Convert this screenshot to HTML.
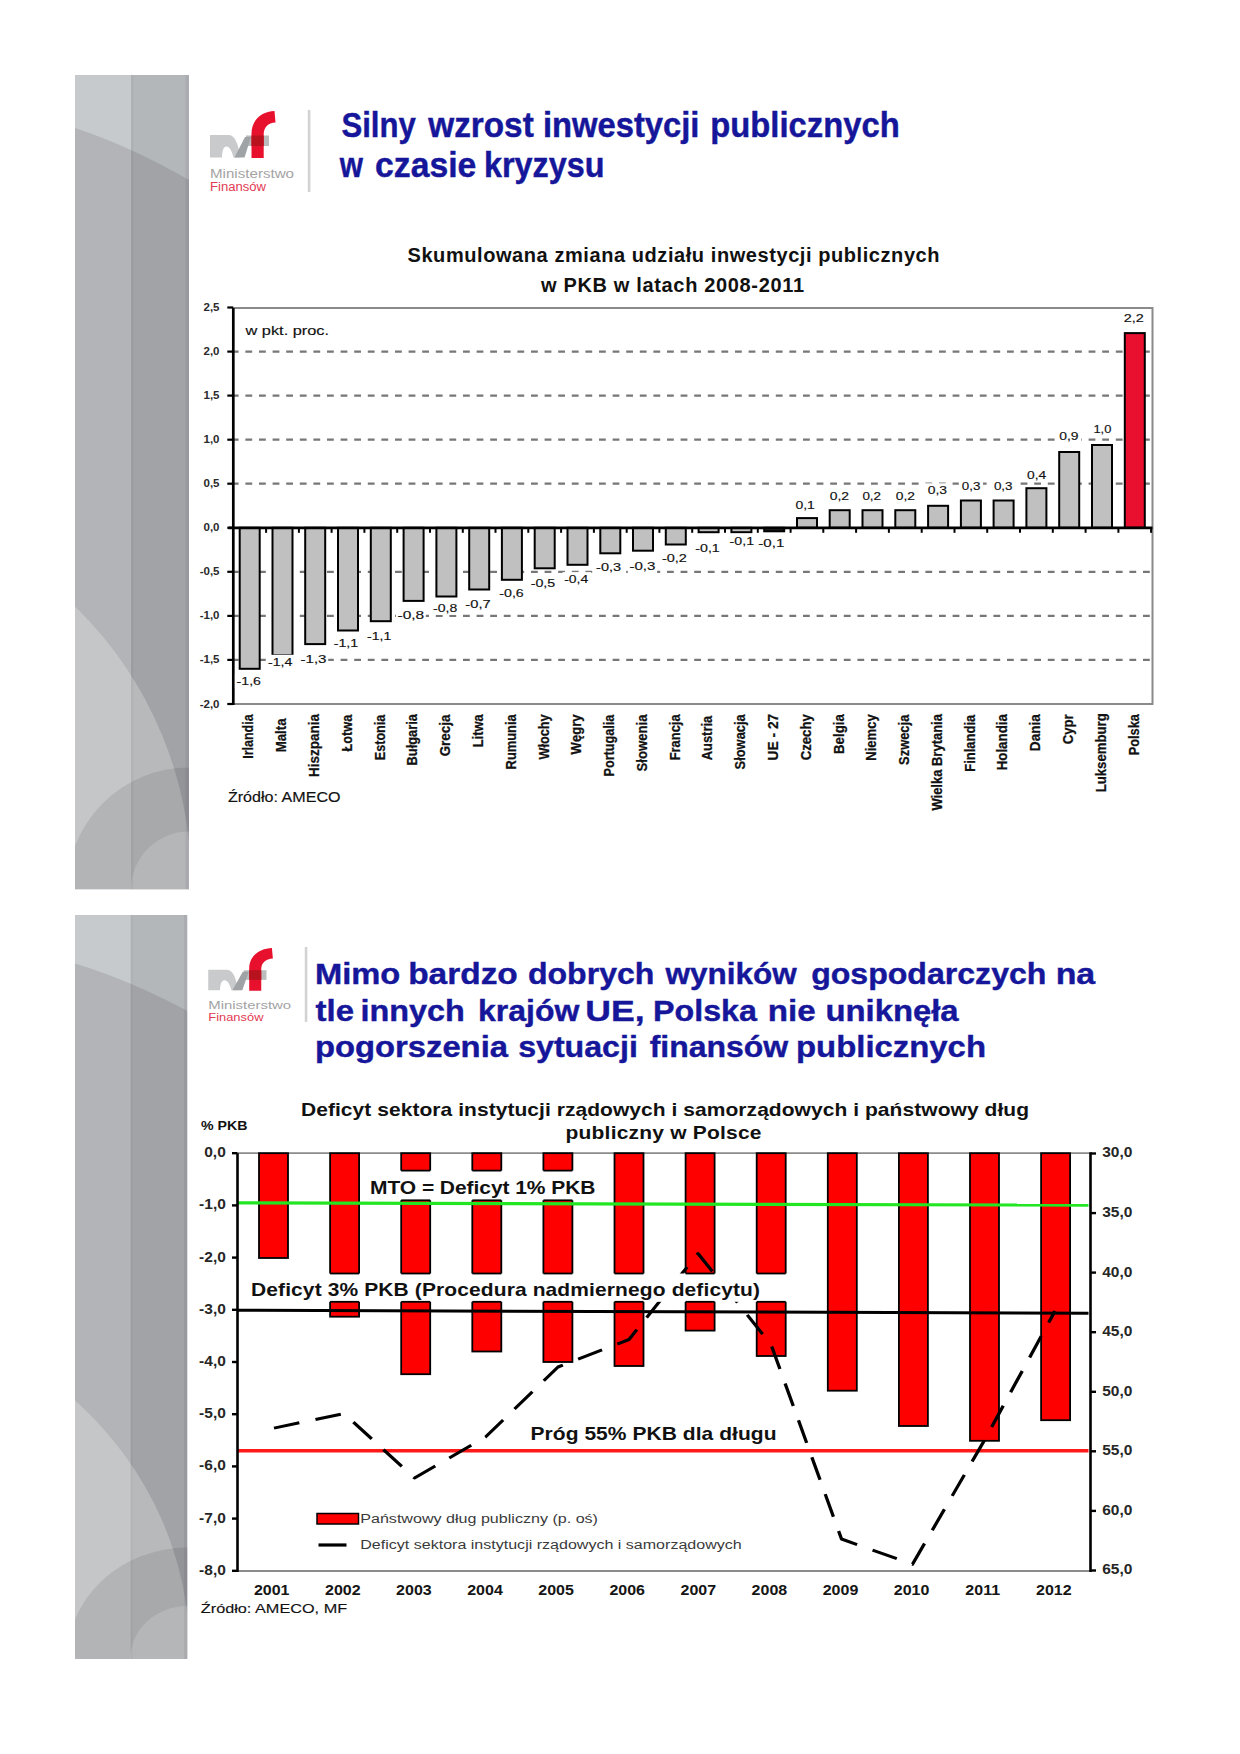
<!DOCTYPE html><html><head><meta charset="utf-8"><style>html,body{margin:0;padding:0;background:#fff}svg{display:block}</style></head><body>
<svg width="1240" height="1754" viewBox="0 0 1240 1754" style="font-family:'Liberation Sans',sans-serif">
<rect width="1240" height="1754" fill="#fff"/>
<defs><clipPath id="c1"><rect x="75" y="75" width="114" height="814.5"/></clipPath></defs>
<g clip-path="url(#c1)">
<rect x="75" y="75" width="56" height="814.5" fill="#c7cacd"/>
<rect x="131" y="75" width="58" height="814.5" fill="#b4b7ba"/>
<path d="M75,128 Q130,146 189,180 L189,889.5 L75,889.5 Z" fill="#000" fill-opacity="0.105"/>
<circle cx="-192" cy="881" r="383" fill="#fff" fill-opacity="0.24"/>
<circle cx="189" cy="889.5" r="122" fill="#000" fill-opacity="0.085"/>
<circle cx="189" cy="889.5" r="58" fill="#fff" fill-opacity="0.16"/>
<rect x="185.5" y="75" width="3.5" height="814.5" fill="#302040" fill-opacity="0.07"/>
<rect x="131" y="75" width="2.5" height="814.5" fill="#000" fill-opacity="0.03"/>
</g>
<g transform="translate(210,111) scale(1.0) translate(-210,-111)">
<path d="M210,157.5 V135 H229 C235.5,135 238.5,146 240.5,157.5 H233.5 C232,151 229.5,146.5 226.5,146.5 C223.5,146.5 222,151 222,157.5 Z" fill="#c9cacc"/>
<rect x="246" y="135.5" width="23" height="10.5" fill="#b9bdbe"/>
<path d="M234.5,157.5 L244.5,157.5 L251,137 L245,137 Z" fill="#9fa3a5"/>
<path d="M251.5,158 V133.5 C251.5,120 261.5,111.5 274.5,111 L275.5,122.5 C268,122.8 263.7,127.5 263.7,134.5 V158 Z" fill="#e8112d"/>
<rect x="251.5" y="135.5" width="12.2" height="10.5" fill="#b8121f"/>
<text x="210" y="177.5" font-size="12" fill="#a3a3a3" textLength="84" lengthAdjust="spacingAndGlyphs">Ministerstwo</text>
<text x="210" y="191" font-size="12" fill="#e23a52" textLength="56" lengthAdjust="spacingAndGlyphs">Finansów</text>
</g>
<rect x="307.8" y="110" width="2.6" height="82" fill="#d2d2d2"/>
<text transform="translate(341.41,137.00)" font-size="35" font-weight="bold" fill="#16169a" textLength="74.36" lengthAdjust="spacingAndGlyphs" stroke="#16169a" stroke-width="0.45">Silny</text>
<text transform="translate(428.20,137.00)" font-size="35" font-weight="bold" fill="#16169a" textLength="105.57" lengthAdjust="spacingAndGlyphs" stroke="#16169a" stroke-width="0.45">wzrost</text>
<text transform="translate(542.93,137.00)" font-size="35" font-weight="bold" fill="#16169a" textLength="156.52" lengthAdjust="spacingAndGlyphs" stroke="#16169a" stroke-width="0.45">inwestycji</text>
<text transform="translate(710.23,137.00)" font-size="35" font-weight="bold" fill="#16169a" textLength="189.48" lengthAdjust="spacingAndGlyphs" stroke="#16169a" stroke-width="0.45">publicznych</text>
<text transform="translate(339.70,177.00)" font-size="35" font-weight="bold" fill="#16169a" textLength="23.20" lengthAdjust="spacingAndGlyphs" stroke="#16169a" stroke-width="0.45">w</text>
<text transform="translate(375.04,177.00)" font-size="35" font-weight="bold" fill="#16169a" textLength="101.22" lengthAdjust="spacingAndGlyphs" stroke="#16169a" stroke-width="0.45">czasie</text>
<text transform="translate(483.95,177.00)" font-size="35" font-weight="bold" fill="#16169a" textLength="120.44" lengthAdjust="spacingAndGlyphs" stroke="#16169a" stroke-width="0.45">kryzysu</text>
<text x="407.5" y="262" font-size="20" font-weight="bold" fill="#111" text-anchor="start" textLength="532" lengthAdjust="spacing" >Skumulowana zmiana udziału inwestycji publicznych</text>
<text x="541" y="291.5" font-size="20" font-weight="bold" fill="#111" text-anchor="start" textLength="263" lengthAdjust="spacing" >w PKB w latach 2008-2011</text>
<path d="M233.3,308 H1152.5 V704 H233.3" fill="none" stroke="#8a8a8a" stroke-width="2"/>
<line x1="231.8" y1="351.6" x2="1152.5" y2="351.6" stroke="#777" stroke-width="2.2" stroke-dasharray="6.8 6.8"/>
<line x1="231.8" y1="395.6" x2="1152.5" y2="395.6" stroke="#777" stroke-width="2.2" stroke-dasharray="6.8 6.8"/>
<line x1="231.8" y1="439.7" x2="1152.5" y2="439.7" stroke="#777" stroke-width="2.2" stroke-dasharray="6.8 6.8"/>
<line x1="231.8" y1="483.7" x2="1152.5" y2="483.7" stroke="#777" stroke-width="2.2" stroke-dasharray="6.8 6.8"/>
<line x1="231.8" y1="571.8" x2="1152.5" y2="571.8" stroke="#777" stroke-width="2.2" stroke-dasharray="6.8 6.8"/>
<line x1="231.8" y1="615.9" x2="1152.5" y2="615.9" stroke="#777" stroke-width="2.2" stroke-dasharray="6.8 6.8"/>
<line x1="231.8" y1="659.9" x2="1152.5" y2="659.9" stroke="#777" stroke-width="2.2" stroke-dasharray="6.8 6.8"/>
<rect x="239.7" y="527.8" width="20" height="141.0" fill="#c0c0c0" stroke="#000" stroke-width="2"/>
<rect x="272.5" y="527.8" width="20" height="127.5" fill="#c0c0c0" stroke="#000" stroke-width="2"/>
<rect x="305.2" y="527.8" width="20" height="116.3" fill="#c0c0c0" stroke="#000" stroke-width="2"/>
<rect x="338.0" y="527.8" width="20" height="102.7" fill="#c0c0c0" stroke="#000" stroke-width="2"/>
<rect x="370.8" y="527.8" width="20" height="93.4" fill="#c0c0c0" stroke="#000" stroke-width="2"/>
<rect x="403.6" y="527.8" width="20" height="73.1" fill="#c0c0c0" stroke="#000" stroke-width="2"/>
<rect x="436.4" y="527.8" width="20" height="68.7" fill="#c0c0c0" stroke="#000" stroke-width="2"/>
<rect x="469.2" y="527.8" width="20" height="61.7" fill="#c0c0c0" stroke="#000" stroke-width="2"/>
<rect x="501.9" y="527.8" width="20" height="52.0" fill="#c0c0c0" stroke="#000" stroke-width="2"/>
<rect x="534.7" y="527.8" width="20" height="40.5" fill="#c0c0c0" stroke="#000" stroke-width="2"/>
<rect x="567.5" y="527.8" width="20" height="37.0" fill="#c0c0c0" stroke="#000" stroke-width="2"/>
<rect x="600.3" y="527.8" width="20" height="25.5" fill="#c0c0c0" stroke="#000" stroke-width="2"/>
<rect x="633.0" y="527.8" width="20" height="22.9" fill="#c0c0c0" stroke="#000" stroke-width="2"/>
<rect x="665.8" y="527.8" width="20" height="16.7" fill="#c0c0c0" stroke="#000" stroke-width="2"/>
<rect x="698.6" y="527.8" width="20" height="4.4" fill="#c0c0c0" stroke="#000" stroke-width="2"/>
<rect x="731.4" y="527.8" width="20" height="4.4" fill="#c0c0c0" stroke="#000" stroke-width="2"/>
<rect x="764.2" y="527.8" width="20" height="3.5" fill="#222" stroke="#000" stroke-width="2"/>
<rect x="797.0" y="518.1" width="20" height="9.7" fill="#c0c0c0" stroke="#000" stroke-width="2"/>
<rect x="829.7" y="510.2" width="20" height="17.6" fill="#c0c0c0" stroke="#000" stroke-width="2"/>
<rect x="862.5" y="510.2" width="20" height="17.6" fill="#c0c0c0" stroke="#000" stroke-width="2"/>
<rect x="895.3" y="510.2" width="20" height="17.6" fill="#c0c0c0" stroke="#000" stroke-width="2"/>
<rect x="928.1" y="505.8" width="20" height="22.0" fill="#c0c0c0" stroke="#000" stroke-width="2"/>
<rect x="960.9" y="500.5" width="20" height="27.3" fill="#c0c0c0" stroke="#000" stroke-width="2"/>
<rect x="993.6" y="500.5" width="20" height="27.3" fill="#c0c0c0" stroke="#000" stroke-width="2"/>
<rect x="1026.4" y="488.2" width="20" height="39.6" fill="#c0c0c0" stroke="#000" stroke-width="2"/>
<rect x="1059.2" y="452.0" width="20" height="75.8" fill="#c0c0c0" stroke="#000" stroke-width="2"/>
<rect x="1092.0" y="445.0" width="20" height="82.8" fill="#c0c0c0" stroke="#000" stroke-width="2"/>
<rect x="1124.8" y="333.1" width="20" height="194.7" fill="#e8102e" stroke="#000" stroke-width="2"/>
<line x1="228.3" y1="527.8" x2="1152.5" y2="527.8" stroke="#000" stroke-width="2.8"/>
<line x1="266.1" y1="527.8" x2="266.1" y2="532.8" stroke="#000" stroke-width="2"/>
<line x1="298.9" y1="527.8" x2="298.9" y2="532.8" stroke="#000" stroke-width="2"/>
<line x1="331.6" y1="527.8" x2="331.6" y2="532.8" stroke="#000" stroke-width="2"/>
<line x1="364.4" y1="527.8" x2="364.4" y2="532.8" stroke="#000" stroke-width="2"/>
<line x1="397.2" y1="527.8" x2="397.2" y2="532.8" stroke="#000" stroke-width="2"/>
<line x1="430.0" y1="527.8" x2="430.0" y2="532.8" stroke="#000" stroke-width="2"/>
<line x1="462.8" y1="527.8" x2="462.8" y2="532.8" stroke="#000" stroke-width="2"/>
<line x1="495.5" y1="527.8" x2="495.5" y2="532.8" stroke="#000" stroke-width="2"/>
<line x1="528.3" y1="527.8" x2="528.3" y2="532.8" stroke="#000" stroke-width="2"/>
<line x1="561.1" y1="527.8" x2="561.1" y2="532.8" stroke="#000" stroke-width="2"/>
<line x1="593.9" y1="527.8" x2="593.9" y2="532.8" stroke="#000" stroke-width="2"/>
<line x1="626.7" y1="527.8" x2="626.7" y2="532.8" stroke="#000" stroke-width="2"/>
<line x1="659.4" y1="527.8" x2="659.4" y2="532.8" stroke="#000" stroke-width="2"/>
<line x1="692.2" y1="527.8" x2="692.2" y2="532.8" stroke="#000" stroke-width="2"/>
<line x1="725.0" y1="527.8" x2="725.0" y2="532.8" stroke="#000" stroke-width="2"/>
<line x1="757.8" y1="527.8" x2="757.8" y2="532.8" stroke="#000" stroke-width="2"/>
<line x1="790.6" y1="527.8" x2="790.6" y2="532.8" stroke="#000" stroke-width="2"/>
<line x1="823.3" y1="527.8" x2="823.3" y2="532.8" stroke="#000" stroke-width="2"/>
<line x1="856.1" y1="527.8" x2="856.1" y2="532.8" stroke="#000" stroke-width="2"/>
<line x1="888.9" y1="527.8" x2="888.9" y2="532.8" stroke="#000" stroke-width="2"/>
<line x1="921.7" y1="527.8" x2="921.7" y2="532.8" stroke="#000" stroke-width="2"/>
<line x1="954.5" y1="527.8" x2="954.5" y2="532.8" stroke="#000" stroke-width="2"/>
<line x1="987.2" y1="527.8" x2="987.2" y2="532.8" stroke="#000" stroke-width="2"/>
<line x1="1020.0" y1="527.8" x2="1020.0" y2="532.8" stroke="#000" stroke-width="2"/>
<line x1="1052.8" y1="527.8" x2="1052.8" y2="532.8" stroke="#000" stroke-width="2"/>
<line x1="1085.6" y1="527.8" x2="1085.6" y2="532.8" stroke="#000" stroke-width="2"/>
<line x1="1118.4" y1="527.8" x2="1118.4" y2="532.8" stroke="#000" stroke-width="2"/>
<line x1="1151.1" y1="527.8" x2="1151.1" y2="532.8" stroke="#000" stroke-width="2"/>
<line x1="233.3" y1="308" x2="233.3" y2="705" stroke="#000" stroke-width="2.7"/>
<line x1="227.3" y1="307.5" x2="233.3" y2="307.5" stroke="#000" stroke-width="2.2"/>
<text x="219.5" y="311.04999999999995" font-size="11.5" font-weight="bold" fill="#2a2a2a" text-anchor="end" >2,5</text>
<line x1="227.3" y1="351.6" x2="233.3" y2="351.6" stroke="#000" stroke-width="2.2"/>
<text x="219.5" y="355.09999999999997" font-size="11.5" font-weight="bold" fill="#2a2a2a" text-anchor="end" >2,0</text>
<line x1="227.3" y1="395.6" x2="233.3" y2="395.6" stroke="#000" stroke-width="2.2"/>
<text x="219.5" y="399.15" font-size="11.5" font-weight="bold" fill="#2a2a2a" text-anchor="end" >1,5</text>
<line x1="227.3" y1="439.7" x2="233.3" y2="439.7" stroke="#000" stroke-width="2.2"/>
<text x="219.5" y="443.19999999999993" font-size="11.5" font-weight="bold" fill="#2a2a2a" text-anchor="end" >1,0</text>
<line x1="227.3" y1="483.7" x2="233.3" y2="483.7" stroke="#000" stroke-width="2.2"/>
<text x="219.5" y="487.24999999999994" font-size="11.5" font-weight="bold" fill="#2a2a2a" text-anchor="end" >0,5</text>
<line x1="227.3" y1="527.8" x2="233.3" y2="527.8" stroke="#000" stroke-width="2.2"/>
<text x="219.5" y="531.3" font-size="11.5" font-weight="bold" fill="#2a2a2a" text-anchor="end" >0,0</text>
<line x1="227.3" y1="571.8" x2="233.3" y2="571.8" stroke="#000" stroke-width="2.2"/>
<text x="219.5" y="575.3499999999999" font-size="11.5" font-weight="bold" fill="#2a2a2a" text-anchor="end" >-0,5</text>
<line x1="227.3" y1="615.9" x2="233.3" y2="615.9" stroke="#000" stroke-width="2.2"/>
<text x="219.5" y="619.4" font-size="11.5" font-weight="bold" fill="#2a2a2a" text-anchor="end" >-1,0</text>
<line x1="227.3" y1="659.9" x2="233.3" y2="659.9" stroke="#000" stroke-width="2.2"/>
<text x="219.5" y="663.4499999999999" font-size="11.5" font-weight="bold" fill="#2a2a2a" text-anchor="end" >-1,5</text>
<line x1="227.3" y1="704.0" x2="233.3" y2="704.0" stroke="#000" stroke-width="2.2"/>
<text x="219.5" y="707.5" font-size="11.5" font-weight="bold" fill="#2a2a2a" text-anchor="end" >-2,0</text>
<text transform="translate(245.50,334.50)" font-size="13" font-weight="normal" fill="#111" textLength="83.55" lengthAdjust="spacingAndGlyphs" stroke="#111" stroke-width="0.15">w pkt. proc.</text>
<rect x="234.9" y="674.0" width="27.8" height="14" fill="#fff"/>
<rect x="266.3" y="654.8" width="29.1" height="14" fill="#fff"/>
<rect x="298.8" y="652.0" width="29.4" height="14" fill="#fff"/>
<rect x="332.0" y="635.4" width="28.0" height="14" fill="#fff"/>
<rect x="365.3" y="629.2" width="27.7" height="14" fill="#fff"/>
<rect x="395.9" y="607.4" width="29.9" height="14" fill="#fff"/>
<rect x="431.3" y="600.8" width="27.7" height="14" fill="#fff"/>
<rect x="463.7" y="596.8" width="28.7" height="14" fill="#fff"/>
<rect x="497.6" y="585.8" width="27.9" height="14" fill="#fff"/>
<rect x="529.0" y="576.2" width="28.0" height="14" fill="#fff"/>
<rect x="562.5" y="572.1" width="28.8" height="14" fill="#fff"/>
<rect x="594.4" y="560.3" width="28.4" height="14" fill="#fff"/>
<rect x="627.8" y="559.0" width="29.3" height="14" fill="#fff"/>
<rect x="660.2" y="551.3" width="28.4" height="14" fill="#fff"/>
<rect x="693.6" y="540.6" width="27.9" height="14" fill="#fff"/>
<rect x="727.9" y="533.7" width="27.9" height="14" fill="#fff"/>
<rect x="756.7" y="535.7" width="29.3" height="14" fill="#fff"/>
<rect x="792.5" y="497.7" width="25.0" height="14" fill="#fff"/>
<rect x="826.7" y="488.7" width="24.9" height="14" fill="#fff"/>
<rect x="859.4" y="488.7" width="24.3" height="14" fill="#fff"/>
<rect x="892.8" y="488.7" width="24.8" height="14" fill="#fff"/>
<rect x="924.8" y="483.3" width="24.9" height="14" fill="#fff"/>
<rect x="958.8" y="479.2" width="24.2" height="14" fill="#fff"/>
<rect x="990.9" y="479.2" width="24.3" height="14" fill="#fff"/>
<rect x="1024.0" y="467.6" width="24.8" height="14" fill="#fff"/>
<rect x="1056.3" y="428.9" width="24.9" height="14" fill="#fff"/>
<rect x="1091.6" y="422.0" width="22.4" height="14" fill="#fff"/>
<rect x="1122.0" y="311.2" width="24.3" height="14" fill="#fff"/>
<text transform="translate(236.62,685.10)" font-size="11" font-weight="normal" fill="#111" textLength="24.32" lengthAdjust="spacingAndGlyphs" stroke="#111" stroke-width="0.15">-1,6</text>
<text transform="translate(268.02,665.90)" font-size="11" font-weight="normal" fill="#111" textLength="24.34" lengthAdjust="spacingAndGlyphs" stroke="#111" stroke-width="0.15">-1,4</text>
<text transform="translate(300.42,663.10)" font-size="11" font-weight="normal" fill="#111" textLength="26.11" lengthAdjust="spacingAndGlyphs" stroke="#111" stroke-width="0.15">-1,3</text>
<text transform="translate(333.71,646.50)" font-size="11" font-weight="normal" fill="#111" textLength="24.55" lengthAdjust="spacingAndGlyphs" stroke="#111" stroke-width="0.15">-1,1</text>
<text transform="translate(367.02,640.30)" font-size="11" font-weight="normal" fill="#111" textLength="24.21" lengthAdjust="spacingAndGlyphs" stroke="#111" stroke-width="0.15">-1,1</text>
<text transform="translate(397.49,618.50)" font-size="11" font-weight="normal" fill="#111" textLength="26.67" lengthAdjust="spacingAndGlyphs" stroke="#111" stroke-width="0.15">-0,8</text>
<text transform="translate(433.02,611.90)" font-size="11" font-weight="normal" fill="#111" textLength="24.21" lengthAdjust="spacingAndGlyphs" stroke="#111" stroke-width="0.15">-0,8</text>
<text transform="translate(465.36,607.90)" font-size="11" font-weight="normal" fill="#111" textLength="25.33" lengthAdjust="spacingAndGlyphs" stroke="#111" stroke-width="0.15">-0,7</text>
<text transform="translate(499.31,596.90)" font-size="11" font-weight="normal" fill="#111" textLength="24.44" lengthAdjust="spacingAndGlyphs" stroke="#111" stroke-width="0.15">-0,6</text>
<text transform="translate(530.71,587.30)" font-size="11" font-weight="normal" fill="#111" textLength="24.55" lengthAdjust="spacingAndGlyphs" stroke="#111" stroke-width="0.15">-0,5</text>
<text transform="translate(564.23,583.20)" font-size="11" font-weight="normal" fill="#111" textLength="24.03" lengthAdjust="spacingAndGlyphs" stroke="#111" stroke-width="0.15">-0,4</text>
<text transform="translate(596.08,571.40)" font-size="11" font-weight="normal" fill="#111" textLength="24.99" lengthAdjust="spacingAndGlyphs" stroke="#111" stroke-width="0.15">-0,3</text>
<text transform="translate(629.43,570.10)" font-size="11" font-weight="normal" fill="#111" textLength="26.00" lengthAdjust="spacingAndGlyphs" stroke="#111" stroke-width="0.15">-0,3</text>
<text transform="translate(661.88,562.40)" font-size="11" font-weight="normal" fill="#111" textLength="24.99" lengthAdjust="spacingAndGlyphs" stroke="#111" stroke-width="0.15">-0,2</text>
<text transform="translate(695.31,551.70)" font-size="11" font-weight="normal" fill="#111" textLength="24.44" lengthAdjust="spacingAndGlyphs" stroke="#111" stroke-width="0.15">-0,1</text>
<text transform="translate(729.61,544.80)" font-size="11" font-weight="normal" fill="#111" textLength="24.44" lengthAdjust="spacingAndGlyphs" stroke="#111" stroke-width="0.15">-0,1</text>
<text transform="translate(758.33,546.80)" font-size="11" font-weight="normal" fill="#111" textLength="26.00" lengthAdjust="spacingAndGlyphs" stroke="#111" stroke-width="0.15">-0,1</text>
<text transform="translate(795.50,508.80)" font-size="11" font-weight="normal" fill="#111" textLength="19.38" lengthAdjust="spacingAndGlyphs" stroke="#111" stroke-width="0.15">0,1</text>
<text transform="translate(829.70,499.80)" font-size="11" font-weight="normal" fill="#111" textLength="19.27" lengthAdjust="spacingAndGlyphs" stroke="#111" stroke-width="0.15">0,2</text>
<text transform="translate(862.40,499.80)" font-size="11" font-weight="normal" fill="#111" textLength="18.66" lengthAdjust="spacingAndGlyphs" stroke="#111" stroke-width="0.15">0,2</text>
<text transform="translate(895.80,499.80)" font-size="11" font-weight="normal" fill="#111" textLength="19.17" lengthAdjust="spacingAndGlyphs" stroke="#111" stroke-width="0.15">0,2</text>
<text transform="translate(927.80,494.40)" font-size="11" font-weight="normal" fill="#111" textLength="19.27" lengthAdjust="spacingAndGlyphs" stroke="#111" stroke-width="0.15">0,3</text>
<text transform="translate(961.80,490.30)" font-size="11" font-weight="normal" fill="#111" textLength="18.56" lengthAdjust="spacingAndGlyphs" stroke="#111" stroke-width="0.15">0,3</text>
<text transform="translate(993.90,490.30)" font-size="11" font-weight="normal" fill="#111" textLength="18.66" lengthAdjust="spacingAndGlyphs" stroke="#111" stroke-width="0.15">0,3</text>
<text transform="translate(1027.00,478.70)" font-size="11" font-weight="normal" fill="#111" textLength="19.17" lengthAdjust="spacingAndGlyphs" stroke="#111" stroke-width="0.15">0,4</text>
<text transform="translate(1059.30,440.00)" font-size="11" font-weight="normal" fill="#111" textLength="19.27" lengthAdjust="spacingAndGlyphs" stroke="#111" stroke-width="0.15">0,9</text>
<text transform="translate(1093.43,433.10)" font-size="11" font-weight="normal" fill="#111" textLength="17.92" lengthAdjust="spacingAndGlyphs" stroke="#111" stroke-width="0.15">1,0</text>
<text transform="translate(1123.69,322.30)" font-size="11" font-weight="normal" fill="#111" textLength="20.00" lengthAdjust="spacingAndGlyphs" stroke="#111" stroke-width="0.15">2,2</text>
<text transform="translate(253.49,758.69) rotate(-90)" font-size="14" font-weight="bold" fill="#111" textLength="44.31" lengthAdjust="spacingAndGlyphs" stroke="#111" stroke-width="0.25">Irlandia</text>
<text transform="translate(286.27,752.35) rotate(-90)" font-size="14" font-weight="bold" fill="#111" textLength="33.85" lengthAdjust="spacingAndGlyphs" stroke="#111" stroke-width="0.25">Malta</text>
<text transform="translate(319.05,776.97) rotate(-90)" font-size="14" font-weight="bold" fill="#111" textLength="63.11" lengthAdjust="spacingAndGlyphs" stroke="#111" stroke-width="0.25">Hiszpania</text>
<text transform="translate(351.83,751.40) rotate(-90)" font-size="14" font-weight="bold" fill="#111" textLength="36.70" lengthAdjust="spacingAndGlyphs" stroke="#111" stroke-width="0.25">Łotwa</text>
<text transform="translate(384.61,760.30) rotate(-90)" font-size="14" font-weight="bold" fill="#111" textLength="45.72" lengthAdjust="spacingAndGlyphs" stroke="#111" stroke-width="0.25">Estonia</text>
<text transform="translate(417.39,765.41) rotate(-90)" font-size="14" font-weight="bold" fill="#111" textLength="51.23" lengthAdjust="spacingAndGlyphs" stroke="#111" stroke-width="0.25">Bułgaria</text>
<text transform="translate(450.17,756.36) rotate(-90)" font-size="14" font-weight="bold" fill="#111" textLength="41.77" lengthAdjust="spacingAndGlyphs" stroke="#111" stroke-width="0.25">Grecja</text>
<text transform="translate(482.95,747.22) rotate(-90)" font-size="14" font-weight="bold" fill="#111" textLength="32.82" lengthAdjust="spacingAndGlyphs" stroke="#111" stroke-width="0.25">Litwa</text>
<text transform="translate(515.73,769.42) rotate(-90)" font-size="14" font-weight="bold" fill="#111" textLength="55.12" lengthAdjust="spacingAndGlyphs" stroke="#111" stroke-width="0.25">Rumunia</text>
<text transform="translate(548.51,759.40) rotate(-90)" font-size="14" font-weight="bold" fill="#111" textLength="45.00" lengthAdjust="spacingAndGlyphs" stroke="#111" stroke-width="0.25">Włochy</text>
<text transform="translate(581.29,754.40) rotate(-90)" font-size="14" font-weight="bold" fill="#111" textLength="40.01" lengthAdjust="spacingAndGlyphs" stroke="#111" stroke-width="0.25">Węgry</text>
<text transform="translate(614.07,776.50) rotate(-90)" font-size="14" font-weight="bold" fill="#111" textLength="61.82" lengthAdjust="spacingAndGlyphs" stroke="#111" stroke-width="0.25">Portugalia</text>
<text transform="translate(646.85,771.44) rotate(-90)" font-size="14" font-weight="bold" fill="#111" textLength="56.95" lengthAdjust="spacingAndGlyphs" stroke="#111" stroke-width="0.25">Słowenia</text>
<text transform="translate(679.63,760.32) rotate(-90)" font-size="14" font-weight="bold" fill="#111" textLength="45.95" lengthAdjust="spacingAndGlyphs" stroke="#111" stroke-width="0.25">Francja</text>
<text transform="translate(712.41,760.32) rotate(-90)" font-size="14" font-weight="bold" fill="#111" textLength="44.54" lengthAdjust="spacingAndGlyphs" stroke="#111" stroke-width="0.25">Austria</text>
<text transform="translate(745.19,769.42) rotate(-90)" font-size="14" font-weight="bold" fill="#111" textLength="55.15" lengthAdjust="spacingAndGlyphs" stroke="#111" stroke-width="0.25">Słowacja</text>
<text transform="translate(777.97,760.38) rotate(-90)" font-size="14" font-weight="bold" fill="#111" textLength="46.64" lengthAdjust="spacingAndGlyphs" stroke="#111" stroke-width="0.25">UE - 27</text>
<text transform="translate(810.75,760.34) rotate(-90)" font-size="14" font-weight="bold" fill="#111" textLength="46.17" lengthAdjust="spacingAndGlyphs" stroke="#111" stroke-width="0.25">Czechy</text>
<text transform="translate(843.53,753.95) rotate(-90)" font-size="14" font-weight="bold" fill="#111" textLength="39.76" lengthAdjust="spacingAndGlyphs" stroke="#111" stroke-width="0.25">Belgia</text>
<text transform="translate(876.31,760.73) rotate(-90)" font-size="14" font-weight="bold" fill="#111" textLength="46.36" lengthAdjust="spacingAndGlyphs" stroke="#111" stroke-width="0.25">Niemcy</text>
<text transform="translate(909.09,764.92) rotate(-90)" font-size="14" font-weight="bold" fill="#111" textLength="50.25" lengthAdjust="spacingAndGlyphs" stroke="#111" stroke-width="0.25">Szwecja</text>
<text transform="translate(941.87,810.60) rotate(-90)" font-size="14" font-weight="bold" fill="#111" textLength="96.53" lengthAdjust="spacingAndGlyphs" stroke="#111" stroke-width="0.25">Wielka Brytania</text>
<text transform="translate(974.65,771.73) rotate(-90)" font-size="14" font-weight="bold" fill="#111" textLength="57.02" lengthAdjust="spacingAndGlyphs" stroke="#111" stroke-width="0.25">Finlandia</text>
<text transform="translate(1007.43,770.35) rotate(-90)" font-size="14" font-weight="bold" fill="#111" textLength="56.27" lengthAdjust="spacingAndGlyphs" stroke="#111" stroke-width="0.25">Holandia</text>
<text transform="translate(1040.21,751.17) rotate(-90)" font-size="14" font-weight="bold" fill="#111" textLength="37.09" lengthAdjust="spacingAndGlyphs" stroke="#111" stroke-width="0.25">Dania</text>
<text transform="translate(1072.99,744.34) rotate(-90)" font-size="14" font-weight="bold" fill="#111" textLength="30.05" lengthAdjust="spacingAndGlyphs" stroke="#111" stroke-width="0.25">Cypr</text>
<text transform="translate(1105.77,792.34) rotate(-90)" font-size="14" font-weight="bold" fill="#111" textLength="79.10" lengthAdjust="spacingAndGlyphs" stroke="#111" stroke-width="0.25">Luksemburg</text>
<text transform="translate(1138.55,755.31) rotate(-90)" font-size="14" font-weight="bold" fill="#111" textLength="41.24" lengthAdjust="spacingAndGlyphs" stroke="#111" stroke-width="0.25">Polska</text>
<text transform="translate(227.90,802.30)" font-size="14" font-weight="normal" fill="#111" textLength="112.64" lengthAdjust="spacingAndGlyphs" stroke="#111" stroke-width="0.15">Źródło: AMECO</text>
<g transform="translate(75,915) scale(0.987,0.9134) translate(-75,-75)">
<defs><clipPath id="c2"><rect x="75" y="75" width="114" height="814.5"/></clipPath></defs>
<g clip-path="url(#c2)">
<rect x="75" y="75" width="56" height="814.5" fill="#c7cacd"/>
<rect x="131" y="75" width="58" height="814.5" fill="#b4b7ba"/>
<path d="M75,128 Q130,146 189,180 L189,889.5 L75,889.5 Z" fill="#000" fill-opacity="0.105"/>
<circle cx="-192" cy="881" r="383" fill="#fff" fill-opacity="0.24"/>
<circle cx="189" cy="889.5" r="122" fill="#000" fill-opacity="0.085"/>
<circle cx="189" cy="889.5" r="58" fill="#fff" fill-opacity="0.16"/>
<rect x="185.5" y="75" width="3.5" height="814.5" fill="#302040" fill-opacity="0.07"/>
<rect x="131" y="75" width="2.5" height="814.5" fill="#000" fill-opacity="0.03"/>
</g>
<g transform="translate(210,111) scale(1.0) translate(-210,-111)">
<path d="M210,157.5 V135 H229 C235.5,135 238.5,146 240.5,157.5 H233.5 C232,151 229.5,146.5 226.5,146.5 C223.5,146.5 222,151 222,157.5 Z" fill="#c9cacc"/>
<rect x="246" y="135.5" width="23" height="10.5" fill="#b9bdbe"/>
<path d="M234.5,157.5 L244.5,157.5 L251,137 L245,137 Z" fill="#9fa3a5"/>
<path d="M251.5,158 V133.5 C251.5,120 261.5,111.5 274.5,111 L275.5,122.5 C268,122.8 263.7,127.5 263.7,134.5 V158 Z" fill="#e8112d"/>
<rect x="251.5" y="135.5" width="12.2" height="10.5" fill="#b8121f"/>
<text x="210" y="177.5" font-size="12" fill="#a3a3a3" textLength="84" lengthAdjust="spacingAndGlyphs">Ministerstwo</text>
<text x="210" y="191" font-size="12" fill="#e23a52" textLength="56" lengthAdjust="spacingAndGlyphs">Finansów</text>
</g>
<rect x="307.8" y="110" width="2.6" height="82" fill="#d2d2d2"/>
</g>
<text transform="translate(314.92,984.20) scale(1,0.9134)" font-size="33" font-weight="bold" fill="#16169a" textLength="85.34" lengthAdjust="spacingAndGlyphs" stroke="#16169a" stroke-width="0.45">Mimo</text>
<text transform="translate(408.17,984.20) scale(1,0.9134)" font-size="33" font-weight="bold" fill="#16169a" textLength="109.61" lengthAdjust="spacingAndGlyphs" stroke="#16169a" stroke-width="0.45">bardzo</text>
<text transform="translate(527.93,984.20) scale(1,0.9134)" font-size="33" font-weight="bold" fill="#16169a" textLength="126.50" lengthAdjust="spacingAndGlyphs" stroke="#16169a" stroke-width="0.45">dobrych</text>
<text transform="translate(665.60,984.20) scale(1,0.9134)" font-size="33" font-weight="bold" fill="#16169a" textLength="131.21" lengthAdjust="spacingAndGlyphs" stroke="#16169a" stroke-width="0.45">wyników</text>
<text transform="translate(811.13,984.20) scale(1,0.9134)" font-size="33" font-weight="bold" fill="#16169a" textLength="235.28" lengthAdjust="spacingAndGlyphs" stroke="#16169a" stroke-width="0.45">gospodarczych</text>
<text transform="translate(1055.65,984.20) scale(1,0.9134)" font-size="33" font-weight="bold" fill="#16169a" textLength="39.56" lengthAdjust="spacingAndGlyphs" stroke="#16169a" stroke-width="0.45">na</text>
<text transform="translate(315.60,1020.80) scale(1,0.9134)" font-size="33" font-weight="bold" fill="#16169a" textLength="38.41" lengthAdjust="spacingAndGlyphs" stroke="#16169a" stroke-width="0.45">tle</text>
<text transform="translate(360.44,1020.80) scale(1,0.9134)" font-size="33" font-weight="bold" fill="#16169a" textLength="104.27" lengthAdjust="spacingAndGlyphs" stroke="#16169a" stroke-width="0.45">innych</text>
<text transform="translate(478.06,1020.80) scale(1,0.9134)" font-size="33" font-weight="bold" fill="#16169a" textLength="101.22" lengthAdjust="spacingAndGlyphs" stroke="#16169a" stroke-width="0.45">krajów</text>
<text transform="translate(585.34,1020.80) scale(1,0.9134)" font-size="33" font-weight="bold" fill="#16169a" textLength="59.33" lengthAdjust="spacingAndGlyphs" stroke="#16169a" stroke-width="0.45">UE,</text>
<text transform="translate(653.05,1020.80) scale(1,0.9134)" font-size="33" font-weight="bold" fill="#16169a" textLength="103.87" lengthAdjust="spacingAndGlyphs" stroke="#16169a" stroke-width="0.45">Polska</text>
<text transform="translate(767.79,1020.80) scale(1,0.9134)" font-size="33" font-weight="bold" fill="#16169a" textLength="47.90" lengthAdjust="spacingAndGlyphs" stroke="#16169a" stroke-width="0.45">nie</text>
<text transform="translate(825.41,1020.80) scale(1,0.9134)" font-size="33" font-weight="bold" fill="#16169a" textLength="133.17" lengthAdjust="spacingAndGlyphs" stroke="#16169a" stroke-width="0.45">uniknęła</text>
<text transform="translate(315.01,1056.80) scale(1,0.9134)" font-size="33" font-weight="bold" fill="#16169a" textLength="192.95" lengthAdjust="spacingAndGlyphs" stroke="#16169a" stroke-width="0.45">pogorszenia</text>
<text transform="translate(518.13,1056.80) scale(1,0.9134)" font-size="33" font-weight="bold" fill="#16169a" textLength="119.73" lengthAdjust="spacingAndGlyphs" stroke="#16169a" stroke-width="0.45">sytuacji</text>
<text transform="translate(649.73,1056.80) scale(1,0.9134)" font-size="33" font-weight="bold" fill="#16169a" textLength="138.48" lengthAdjust="spacingAndGlyphs" stroke="#16169a" stroke-width="0.45">finansów</text>
<text transform="translate(796.01,1056.80) scale(1,0.9134)" font-size="33" font-weight="bold" fill="#16169a" textLength="189.97" lengthAdjust="spacingAndGlyphs" stroke="#16169a" stroke-width="0.45">publicznych</text>
<text transform="translate(301,1115.5) scale(1,0.9134)" font-size="21" font-weight="bold" fill="#111" text-anchor="start" textLength="728" lengthAdjust="spacing">Deficyt sektora instytucji rządowych i samorządowych i państwowy dług</text>
<text transform="translate(565.5,1138.5) scale(1,0.9134)" font-size="21" font-weight="bold" fill="#111" text-anchor="start" textLength="196" lengthAdjust="spacing">publiczny w Polsce</text>
<text transform="translate(201,1129.5) scale(1,0.9134)" font-size="15" font-weight="bold" fill="#111" text-anchor="start" textLength="46.5" lengthAdjust="spacingAndGlyphs">% PKB</text>
<path d="M237.5,1153.2 H1090.5 M237.5,1571 H1090.5" stroke="#8c8c8c" stroke-width="1.8" fill="none"/>
<rect x="259.0" y="1153.2" width="29" height="104.8" fill="#ff0000" stroke="#000" stroke-width="1.8"/>
<rect x="330.1" y="1153.2" width="29" height="163.5" fill="#ff0000" stroke="#000" stroke-width="1.8"/>
<rect x="401.2" y="1153.2" width="29" height="221.0" fill="#ff0000" stroke="#000" stroke-width="1.8"/>
<rect x="472.3" y="1153.2" width="29" height="198.3" fill="#ff0000" stroke="#000" stroke-width="1.8"/>
<rect x="543.4" y="1153.2" width="29" height="208.8" fill="#ff0000" stroke="#000" stroke-width="1.8"/>
<rect x="614.5" y="1153.2" width="29" height="212.8" fill="#ff0000" stroke="#000" stroke-width="1.8"/>
<rect x="685.6" y="1153.2" width="29" height="177.4" fill="#ff0000" stroke="#000" stroke-width="1.8"/>
<rect x="756.7" y="1153.2" width="29" height="202.8" fill="#ff0000" stroke="#000" stroke-width="1.8"/>
<rect x="827.8" y="1153.2" width="29" height="237.5" fill="#ff0000" stroke="#000" stroke-width="1.8"/>
<rect x="898.9" y="1153.2" width="29" height="272.8" fill="#ff0000" stroke="#000" stroke-width="1.8"/>
<rect x="970.0" y="1153.2" width="29" height="287.6" fill="#ff0000" stroke="#000" stroke-width="1.8"/>
<rect x="1041.1" y="1153.2" width="29" height="267.0" fill="#ff0000" stroke="#000" stroke-width="1.8"/>
<line x1="237.5" y1="1202.8" x2="1088.5" y2="1205.2" stroke="#22e622" stroke-width="3.2"/>
<line x1="237.5" y1="1310.2" x2="1088.5" y2="1313.3" stroke="#000" stroke-width="3"/>
<line x1="237.5" y1="1450.8" x2="1088.5" y2="1450.8" stroke="#ff1a1a" stroke-width="3.4"/>
<g transform="scale(1,0.9134)"><path d="M273,1563.72 L344,1547.51 L414.5,1618.13 L485.5,1573.24 L558,1496.61 L629,1466.50 L698,1372.35 L771,1471.97 L841.5,1684.91 L912.5,1712.61 L984,1577.62 L1055,1435.30" fill="none" stroke="#000" stroke-width="3.3" stroke-dasharray="26 16.55" stroke-dashoffset="41.55" stroke-linejoin="round"/></g>
<rect x="362" y="1170.6" width="242" height="29.700000000000045" fill="#fff"/>
<path d="M401.2,1170.6 H430.2" stroke="#000" stroke-width="1.8"/>
<path d="M401.2,1200.3 H430.2" stroke="#000" stroke-width="1.8"/>
<path d="M472.3,1170.6 H501.3" stroke="#000" stroke-width="1.8"/>
<path d="M472.3,1200.3 H501.3" stroke="#000" stroke-width="1.8"/>
<path d="M543.4,1170.6 H572.4" stroke="#000" stroke-width="1.8"/>
<path d="M543.4,1200.3 H572.4" stroke="#000" stroke-width="1.8"/>
<text transform="translate(370,1193.6) scale(1,0.9134)" font-size="21" font-weight="bold" fill="#111" text-anchor="start" textLength="225.5" lengthAdjust="spacing">MTO = Deficyt 1% PKB</text>
<rect x="244" y="1273.5" width="546" height="28.299999999999955" fill="#fff"/>
<path d="M330.1,1273.5 H359.1" stroke="#000" stroke-width="1.8"/>
<path d="M330.1,1301.8 H359.1" stroke="#000" stroke-width="1.8"/>
<path d="M401.2,1273.5 H430.2" stroke="#000" stroke-width="1.8"/>
<path d="M401.2,1301.8 H430.2" stroke="#000" stroke-width="1.8"/>
<path d="M472.3,1273.5 H501.3" stroke="#000" stroke-width="1.8"/>
<path d="M472.3,1301.8 H501.3" stroke="#000" stroke-width="1.8"/>
<path d="M543.4,1273.5 H572.4" stroke="#000" stroke-width="1.8"/>
<path d="M543.4,1301.8 H572.4" stroke="#000" stroke-width="1.8"/>
<path d="M614.5,1273.5 H643.5" stroke="#000" stroke-width="1.8"/>
<path d="M614.5,1301.8 H643.5" stroke="#000" stroke-width="1.8"/>
<path d="M685.6,1273.5 H714.6" stroke="#000" stroke-width="1.8"/>
<path d="M685.6,1301.8 H714.6" stroke="#000" stroke-width="1.8"/>
<path d="M756.7,1273.5 H785.7" stroke="#000" stroke-width="1.8"/>
<path d="M756.7,1301.8 H785.7" stroke="#000" stroke-width="1.8"/>
<text transform="translate(251,1295.8) scale(1,0.9134)" font-size="21" font-weight="bold" fill="#111" text-anchor="start" textLength="509" lengthAdjust="spacing">Deficyt 3% PKB (Procedura nadmiernego deficytu)</text>
<text transform="translate(530.5,1440) scale(1,0.9134)" font-size="21" font-weight="bold" fill="#111" text-anchor="start" textLength="246" lengthAdjust="spacing">Próg 55% PKB dla długu</text>
<line x1="237.5" y1="1153.2" x2="237.5" y2="1572" stroke="#000" stroke-width="2.6"/>
<line x1="1090.5" y1="1152.2" x2="1090.5" y2="1572" stroke="#000" stroke-width="2.6"/>
<line x1="232.0" y1="1153.2" x2="237.5" y2="1153.2" stroke="#000" stroke-width="2.4"/>
<text transform="translate(225.8,1157.1000000000001) scale(1,0.9134)" font-size="15.5" font-weight="bold" fill="#262626" text-anchor="end">0,0</text>
<line x1="232.0" y1="1205.4" x2="237.5" y2="1205.4" stroke="#000" stroke-width="2.4"/>
<text transform="translate(225.8,1209.3000000000002) scale(1,0.9134)" font-size="15.5" font-weight="bold" fill="#262626" text-anchor="end">-1,0</text>
<line x1="232.0" y1="1257.6" x2="237.5" y2="1257.6" stroke="#000" stroke-width="2.4"/>
<text transform="translate(225.8,1261.5000000000002) scale(1,0.9134)" font-size="15.5" font-weight="bold" fill="#262626" text-anchor="end">-2,0</text>
<line x1="232.0" y1="1309.8" x2="237.5" y2="1309.8" stroke="#000" stroke-width="2.4"/>
<text transform="translate(225.8,1313.7000000000003) scale(1,0.9134)" font-size="15.5" font-weight="bold" fill="#262626" text-anchor="end">-3,0</text>
<line x1="232.0" y1="1362.0" x2="237.5" y2="1362.0" stroke="#000" stroke-width="2.4"/>
<text transform="translate(225.8,1365.9) scale(1,0.9134)" font-size="15.5" font-weight="bold" fill="#262626" text-anchor="end">-4,0</text>
<line x1="232.0" y1="1414.2" x2="237.5" y2="1414.2" stroke="#000" stroke-width="2.4"/>
<text transform="translate(225.8,1418.1000000000001) scale(1,0.9134)" font-size="15.5" font-weight="bold" fill="#262626" text-anchor="end">-5,0</text>
<line x1="232.0" y1="1466.4" x2="237.5" y2="1466.4" stroke="#000" stroke-width="2.4"/>
<text transform="translate(225.8,1470.3000000000002) scale(1,0.9134)" font-size="15.5" font-weight="bold" fill="#262626" text-anchor="end">-6,0</text>
<line x1="232.0" y1="1518.6" x2="237.5" y2="1518.6" stroke="#000" stroke-width="2.4"/>
<text transform="translate(225.8,1522.5000000000002) scale(1,0.9134)" font-size="15.5" font-weight="bold" fill="#262626" text-anchor="end">-7,0</text>
<line x1="232.0" y1="1570.8" x2="237.5" y2="1570.8" stroke="#000" stroke-width="2.4"/>
<text transform="translate(225.8,1574.7000000000003) scale(1,0.9134)" font-size="15.5" font-weight="bold" fill="#262626" text-anchor="end">-8,0</text>
<line x1="1090.5" y1="1153.5" x2="1096.0" y2="1153.5" stroke="#000" stroke-width="2.4"/>
<text transform="translate(1102.2,1157.4) scale(1,0.9134)" font-size="15.5" font-weight="bold" fill="#262626" text-anchor="start">30,0</text>
<line x1="1090.5" y1="1213.1" x2="1096.0" y2="1213.1" stroke="#000" stroke-width="2.4"/>
<text transform="translate(1102.2,1216.97) scale(1,0.9134)" font-size="15.5" font-weight="bold" fill="#262626" text-anchor="start">35,0</text>
<line x1="1090.5" y1="1272.6" x2="1096.0" y2="1272.6" stroke="#000" stroke-width="2.4"/>
<text transform="translate(1102.2,1276.5400000000002) scale(1,0.9134)" font-size="15.5" font-weight="bold" fill="#262626" text-anchor="start">40,0</text>
<line x1="1090.5" y1="1332.2" x2="1096.0" y2="1332.2" stroke="#000" stroke-width="2.4"/>
<text transform="translate(1102.2,1336.1100000000001) scale(1,0.9134)" font-size="15.5" font-weight="bold" fill="#262626" text-anchor="start">45,0</text>
<line x1="1090.5" y1="1391.8" x2="1096.0" y2="1391.8" stroke="#000" stroke-width="2.4"/>
<text transform="translate(1102.2,1395.68) scale(1,0.9134)" font-size="15.5" font-weight="bold" fill="#262626" text-anchor="start">50,0</text>
<line x1="1090.5" y1="1451.3" x2="1096.0" y2="1451.3" stroke="#000" stroke-width="2.4"/>
<text transform="translate(1102.2,1455.25) scale(1,0.9134)" font-size="15.5" font-weight="bold" fill="#262626" text-anchor="start">55,0</text>
<line x1="1090.5" y1="1510.9" x2="1096.0" y2="1510.9" stroke="#000" stroke-width="2.4"/>
<text transform="translate(1102.2,1514.8200000000002) scale(1,0.9134)" font-size="15.5" font-weight="bold" fill="#262626" text-anchor="start">60,0</text>
<line x1="1090.5" y1="1570.5" x2="1096.0" y2="1570.5" stroke="#000" stroke-width="2.4"/>
<text transform="translate(1102.2,1574.39) scale(1,0.9134)" font-size="15.5" font-weight="bold" fill="#262626" text-anchor="start">65,0</text>
<text transform="translate(271.7,1595.3) scale(1,0.9134)" font-size="16" font-weight="bold" fill="#151515" text-anchor="middle">2001</text>
<text transform="translate(342.8,1595.3) scale(1,0.9134)" font-size="16" font-weight="bold" fill="#151515" text-anchor="middle">2002</text>
<text transform="translate(413.9,1595.3) scale(1,0.9134)" font-size="16" font-weight="bold" fill="#151515" text-anchor="middle">2003</text>
<text transform="translate(484.99999999999994,1595.3) scale(1,0.9134)" font-size="16" font-weight="bold" fill="#151515" text-anchor="middle">2004</text>
<text transform="translate(556.1,1595.3) scale(1,0.9134)" font-size="16" font-weight="bold" fill="#151515" text-anchor="middle">2005</text>
<text transform="translate(627.2,1595.3) scale(1,0.9134)" font-size="16" font-weight="bold" fill="#151515" text-anchor="middle">2006</text>
<text transform="translate(698.3,1595.3) scale(1,0.9134)" font-size="16" font-weight="bold" fill="#151515" text-anchor="middle">2007</text>
<text transform="translate(769.4,1595.3) scale(1,0.9134)" font-size="16" font-weight="bold" fill="#151515" text-anchor="middle">2008</text>
<text transform="translate(840.5,1595.3) scale(1,0.9134)" font-size="16" font-weight="bold" fill="#151515" text-anchor="middle">2009</text>
<text transform="translate(911.6,1595.3) scale(1,0.9134)" font-size="16" font-weight="bold" fill="#151515" text-anchor="middle">2010</text>
<text transform="translate(982.7,1595.3) scale(1,0.9134)" font-size="16" font-weight="bold" fill="#151515" text-anchor="middle">2011</text>
<text transform="translate(1053.8,1595.3) scale(1,0.9134)" font-size="16" font-weight="bold" fill="#151515" text-anchor="middle">2012</text>
<text transform="translate(200.80,1613.30) scale(1,0.9134)" font-size="15" font-weight="normal" fill="#111" textLength="146.32" lengthAdjust="spacingAndGlyphs" stroke="#111" stroke-width="0.15">Źródło: AMECO, MF</text>
<rect x="317" y="1513.5" width="41.5" height="10.5" fill="#ff0000" stroke="#000" stroke-width="1.5"/>
<text transform="translate(360.26,1522.60) scale(1,0.9134)" font-size="13" font-weight="normal" fill="#3a3a3a" textLength="237.72" lengthAdjust="spacingAndGlyphs" >Państwowy dług publiczny (p. oś)</text>
<line x1="318.5" y1="1545" x2="346.5" y2="1545" stroke="#000" stroke-width="3.2"/>
<text transform="translate(360.27,1549.40) scale(1,0.9134)" font-size="13" font-weight="normal" fill="#3a3a3a" textLength="381.42" lengthAdjust="spacingAndGlyphs" >Deficyt sektora instytucji rządowych i samorządowych</text>
</svg></body></html>
